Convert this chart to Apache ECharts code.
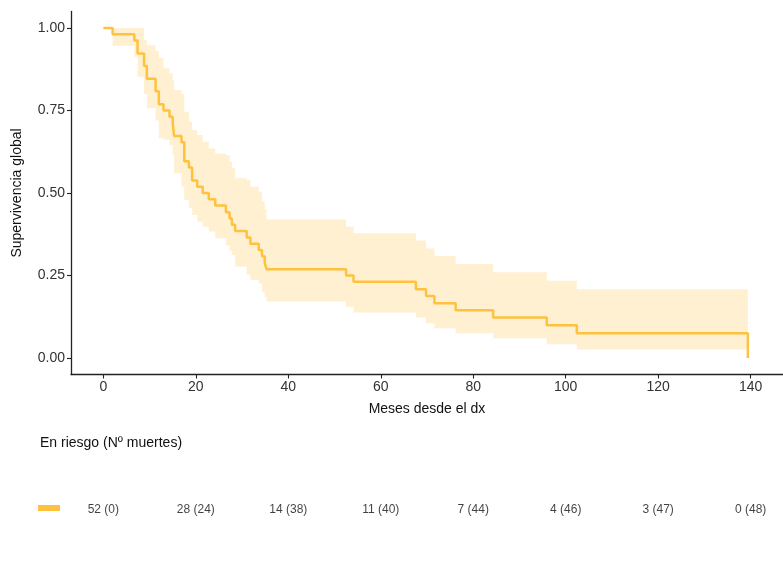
<!DOCTYPE html>
<html>
<head>
<meta charset="utf-8">
<script src="https://cdn.jsdelivr.net/npm/echarts@6/dist/echarts.min.js"></script>
<style>
html,body{margin:0;padding:0;background:#fff;}
#c{width:783px;height:563px;}
</style>
</head>
<body>
<div id="c"></div>
<script>
// Kaplan-Meier step data (value applies from time onward)
const times = [0, 2.0, 6.7, 7.4, 8.8, 9.4, 11.3, 12.0, 13.0, 14.3, 15.0, 15.3, 16.9, 17.5, 18.5, 19.2, 20.3, 21.5, 22.8, 24.2, 26.5, 27.3, 27.8, 28.5, 31.0, 31.8, 33.6, 34.3, 34.9, 35.3, 52.5, 54.1, 67.6, 69.8, 71.6, 76.2, 84.3, 95.9, 102.4, 139.4];
const surv  = [1.000, 0.981, 0.962, 0.923, 0.885, 0.846, 0.808, 0.769, 0.750, 0.731, 0.712, 0.673, 0.654, 0.596, 0.577, 0.538, 0.519, 0.500, 0.481, 0.462, 0.442, 0.423, 0.404, 0.385, 0.365, 0.346, 0.327, 0.308, 0.288, 0.269, 0.250, 0.231, 0.208, 0.188, 0.166, 0.145, 0.123, 0.099, 0.075, 0.000];
const upper = [1.000, 1.000, 1.000, 1.000, 0.964, 0.948, 0.930, 0.908, 0.878, 0.863, 0.840, 0.812, 0.800, 0.746, 0.716, 0.691, 0.676, 0.655, 0.635, 0.620, 0.615, 0.595, 0.575, 0.545, 0.539, 0.519, 0.504, 0.474, 0.450, 0.420, 0.398, 0.378, 0.356, 0.332, 0.309, 0.285, 0.260, 0.234, 0.208, 0.208];
const lower = [1.000, 0.946, 0.913, 0.852, 0.800, 0.757, 0.720, 0.666, 0.661, 0.645, 0.615, 0.560, 0.520, 0.479, 0.454, 0.433, 0.413, 0.398, 0.383, 0.363, 0.342, 0.325, 0.312, 0.277, 0.252, 0.236, 0.226, 0.201, 0.185, 0.171, 0.155, 0.138, 0.123, 0.105, 0.090, 0.075, 0.060, 0.042, 0.026, 0.026];

const xTicks = [0, 20, 40, 60, 80, 100, 120, 140];
const yTicks = [0, 0.25, 0.5, 0.75, 1];
const riskTimes = [0, 20, 40, 60, 80, 100, 120, 140];
const atRisk = [52, 28, 14, 11, 7, 4, 3, 0];
const deaths = [0, 24, 38, 40, 44, 46, 47, 48];

const COL = '#FFC23E';
const BAND = '#FFF0D2';
const FONT = 'Liberation Sans, Arial, sans-serif';

const lineData = times.map((t, i) => [t, surv[i]]);
const riskData = riskTimes.map((t, i) => ({value: [t, 0], label: {formatter: atRisk[i] + ' (' + deaths[i] + ')'}}));

function renderBand(params, api) {
  const up = [], lo = [];
  for (let i = 0; i < times.length - 1; i++) {
    const a = times[i], b = times[i + 1];
    up.push(api.coord([a, upper[i]]), api.coord([b, upper[i]]));
    lo.push(api.coord([a, lower[i]]), api.coord([b, lower[i]]));
  }
  const pts = up.concat(lo.reverse());
  return {type: 'polygon', shape: {points: pts}, style: {fill: BAND}, silent: true};
}

const chart = echarts.init(document.getElementById('c'), null, {renderer: 'canvas'});
chart.setOption({
  animation: false,
  backgroundColor: '#fff',
  grid: [
    {left: 71, top: 11.5, width: 716, height: 363, containLabel: false},
    {left: 71, top: 500, width: 716, height: 20, containLabel: false}
  ],
  xAxis: [
    {
      type: 'value', gridIndex: 0, min: -7, max: 147,
      name: 'Meses desde el dx', nameLocation: 'middle', nameGap: 28,
      nameTextStyle: {color: '#111', fontSize: 14, fontFamily: FONT},
      splitLine: {show: false},
      axisLine: {show: true, onZero: false, lineStyle: {color: '#222', width: 1.3}},
      axisTick: {show: true, length: 4, customValues: xTicks, lineStyle: {color: '#222', width: 1.1}},
      axisLabel: {customValues: xTicks, color: '#333', fontSize: 14, fontFamily: FONT, margin: 6}
    },
    {
      type: 'value', gridIndex: 1, min: -7, max: 147, show: false
    }
  ],
  yAxis: [
    {
      type: 'value', gridIndex: 0, min: -0.05, max: 1.05,
      name: 'Supervivencia global', nameLocation: 'middle', nameGap: 47,
      nameTextStyle: {color: '#111', fontSize: 14, fontFamily: FONT},
      splitLine: {show: false},
      axisLine: {show: true, onZero: false, lineStyle: {color: '#222', width: 1.3}},
      axisTick: {show: true, length: 4, customValues: yTicks, lineStyle: {color: '#222', width: 1.1}},
      axisLabel: {customValues: yTicks, color: '#333', fontSize: 14, fontFamily: FONT, margin: 6,
        formatter: v => v.toFixed(2)}
    },
    {
      type: 'value', gridIndex: 1, min: -1, max: 1, show: false
    }
  ],
  graphic: [
    {type: 'text', left: 40, top: 436, style: {text: 'En riesgo (Nº muertes)', fill: '#111', font: '14px ' + FONT}},
    {type: 'rect', shape: {x: 38, y: 505, width: 22, height: 6}, style: {fill: COL}}
  ],
  series: [
    {
      type: 'custom', xAxisIndex: 0, yAxisIndex: 0, renderItem: renderBand,
      data: [[0, 1]], silent: true, z: 1, clip: true
    },
    {
      type: 'line', xAxisIndex: 0, yAxisIndex: 0, step: 'end',
      data: lineData, symbol: 'none',
      lineStyle: {color: COL, width: 2.5}, z: 5
    },
    {
      type: 'scatter', xAxisIndex: 1, yAxisIndex: 1, data: riskData,
      symbolSize: 0, silent: true,
      label: {show: true, position: 'inside', color: '#111', fontSize: 12, fontFamily: 'Liberation Sans Narrow, Liberation Sans, Arial, sans-serif'}
    }
  ]
});
</script>
</body>
</html>
